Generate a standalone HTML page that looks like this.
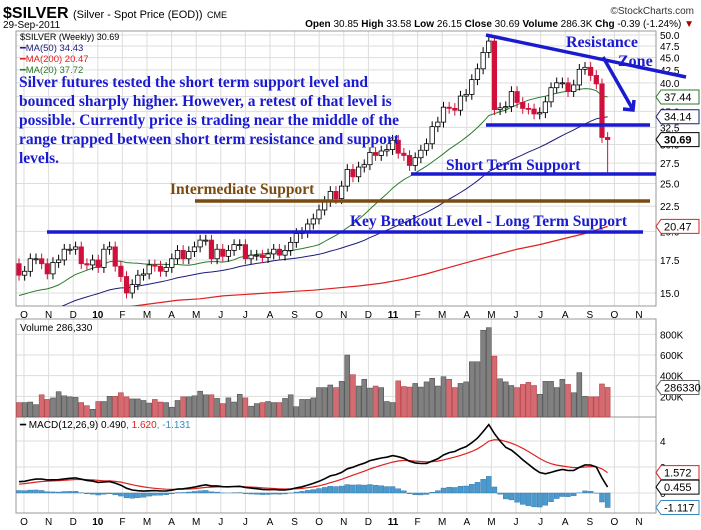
<!DOCTYPE html>
<html><head><meta charset="utf-8">
<style>
body{margin:0;background:#fff;width:701px;height:530px;overflow:hidden;font-family:"Liberation Sans",sans-serif}
svg{display:block}
text{font-family:"Liberation Sans",sans-serif}
.ser{font-family:"Liberation Serif",serif;font-weight:bold}
</style></head><body>
<svg id="chart" width="701" height="530" xmlns="http://www.w3.org/2000/svg">
<g id="grid"></g>
<g id="marks"></g>
<g id="anno">
 <text x="3" y="18" font-size="16" font-weight="bold">$SILVER <tspan font-size="11" font-weight="normal">(Silver - Spot Price (EOD))</tspan> <tspan font-size="9" font-weight="normal">CME</tspan></text>
 <text x="3" y="28" font-size="10">29-Sep-2011</text>
 <text x="694" y="27" font-size="10" text-anchor="end"><tspan font-weight="bold">Open</tspan> 30.85 <tspan font-weight="bold">High</tspan> 33.58 <tspan font-weight="bold">Low</tspan> 26.15 <tspan font-weight="bold">Close</tspan> 30.69 <tspan font-weight="bold">Volume</tspan> 286.3K <tspan font-weight="bold">Chg</tspan> -0.39 (-1.24%) <tspan fill="#a00">▼</tspan></text>
 <text x="694" y="14" font-size="10" text-anchor="end" fill="#333">©StockCharts.com</text>
 <g font-size="9.5">
  <text x="20" y="40" font-family="DejaVu Sans Mono" font-size="9">$SILVER (Weekly) 30.69</text>
  <text x="20" y="51" fill="#1c1c7a">━MA(50) 34.43</text>
  <text x="20" y="62" fill="#d22">━MA(200) 20.47</text>
  <text x="20" y="73" fill="#2a7a2a">━MA(20) 37.72</text>
 </g>
 <g class="ser" fill="#1a1ad0" font-size="15.5">
  <text x="19" y="87" class="ser">Silver futures tested the short term support level and</text>
  <text x="19" y="106" class="ser">bounced sharply higher. However, a retest of that level is</text>
  <text x="19" y="125" class="ser">possible. Currently price is trading near the middle of the</text>
  <text x="19" y="144" class="ser">range trapped between short term resistance and support</text>
  <text x="19" y="163" class="ser">levels.</text>
 </g>
 <line x1="486" y1="35" x2="686" y2="77" stroke="#1a1ad0" stroke-width="3.5"/>
 <line x1="603" y1="57" x2="632" y2="108" stroke="#1a1ad0" stroke-width="3.5"/>
 <polyline points="623,109 633,110 634,100" fill="none" stroke="#1a1ad0" stroke-width="3.5"/>
 <line x1="486" y1="125" x2="650" y2="125" stroke="#1a1ad0" stroke-width="3.5"/>
 <line x1="411" y1="174" x2="656" y2="174" stroke="#1a1ad0" stroke-width="3.5"/>
 <line x1="195" y1="201" x2="650" y2="201" stroke="#7a4a10" stroke-width="3.5"/>
 <line x1="47" y1="232" x2="643" y2="232" stroke="#1a1ad0" stroke-width="3.5"/>
 <text x="566" y="47" class="ser" font-size="16" fill="#1a1ad0">Resistance</text>
 <text x="618" y="66" class="ser" font-size="16" fill="#1a1ad0">Zone</text>
 <text x="446" y="170" class="ser" font-size="15.5" fill="#1a1ad0">Short Term Support</text>
 <text x="170" y="194" class="ser" font-size="15.5" fill="#7a4a10">Intermediate Support</text>
 <text x="350" y="226" class="ser" font-size="15.5" fill="#1a1ad0">Key Breakout Level - Long Term Support</text>
 <text x="20" y="331" font-size="10">Volume 286,330</text>
 <text x="20" y="428" font-size="10">━ MACD(12,26,9) 0.490<tspan fill="#d22">, 1.620</tspan><tspan fill="#3a8ac0">, -1.131</tspan></text>
</g>
<g id="tags"></g>
</svg>
<script>
const warmupCloses=[10.5,9.8,9.0,9.5,9.5,9.8,9.3,10.2,9.8,10.4,10.6,11.0,11.3,11.5,11.3,11.8,12.3,12.8,13.3,14.4,13.2,12.8,12.9,13.3,13.2,12.5,12.4,12.3,12.8,13.3,14.0,14.5,15.2,15.6,15.6,15.2,14.7,14.3,13.5,12.9,13.4,13.9,13.9,14.2,14.6,14.3,14.8,16.0,16.4,17.2];
const closes=[16.3,16.6,17.6,17.6,17.2,16.4,17.3,17.5,18.4,18.4,18.6,17.2,17.1,17.5,
16.9,18.4,18.6,17.0,16.2,15.0,15.6,16.3,16.4,17.1,17.0,16.6,16.9,17.6,18.3,17.6,18.2,18.6,19.2,19.2,17.6,18.4,17.8,18.3,18.8,18.8,17.6,17.9,17.9,17.7,18.0,18.4,17.9,18.3,19.0,19.8,19.9,20.7,21.2,22.1,23.0,24.1,23.3,24.7,26.7,25.8,27.0,27.3,28.9,28.5,29.1,29.3,30.6,
28.8,28.5,27.2,28.2,29.2,30.1,32.6,33.3,35.7,35.5,35.2,37.6,37.9,40.6,42.7,46.1,48.6,35.3,35.6,35.8,38.4,36.5,35.5,35.4,34.6,34.8,36.6,39.1,40.0,40.0,38.4,39.6,42.6,43.0,41.4,39.8,31.0,30.69];
const volumesK=[140,140,145,120,215,170,185,245,205,195,190,140,110,75,150,150,200,200,235,195,175,175,160,135,170,145,140,95,160,195,195,205,250,215,215,180,130,185,145,220,185,105,130,140,150,140,140,180,215,100,170,170,185,285,285,310,285,345,600,410,300,365,280,300,285,150,140,350,295,290,325,290,340,375,300,390,365,285,325,340,535,535,840,865,590,370,340,305,285,315,335,305,220,345,345,285,365,315,235,430,200,195,195,320,286];
const ma200Weeks=[0,4,8,12,16,20,24,28,32,36,40,44,48,52,56,60,64,68,72,76,80,84,88,92,96,100,104];
const ma200Values=[13.0,13.3,13.5,13.7,13.9,14.1,14.3,14.5,14.6,14.8,14.9,15.0,15.1,15.2,15.35,15.5,15.7,16.0,16.4,16.9,17.4,17.9,18.4,18.8,19.3,19.8,20.47];
const priceTicks=[15,17.5,20,22.5,25,27.5,30,32.5,35,37.5,40,42.5,45,47.5,50];
const volTicks=[200,400,600,800];
const macdTicks=[0,2,4];
const monthLabels=["O","N","D","10","F","M","A","M","J","J","A","S","O","N","D","11","F","M","A","M","J","J","A","S","O","N"];

const NS="http://www.w3.org/2000/svg";
const L=16,R=656,PT=31,PB=306,VT=319,VB=417,MT=417,MB=513;
const xOf=i=>19+i*5.66;
const xMonth=m=>24+m*24.6;
const yP=v=>35+(Math.log(50)-Math.log(v))*214.3;
const yV=k=>417-k*0.1033;
const yM=v=>493-v*13;
function mk(tag,attrs,parent){const e=document.createElementNS(NS,tag);for(const k in attrs)e.setAttribute(k,attrs[k]);parent.appendChild(e);return e;}
const grid=document.getElementById('grid'),marks=document.getElementById('marks'),tags=document.getElementById('tags');

[[PT,PB],[VT,VB],[MT,MB]].forEach(([t,b],pi)=>{
  monthLabels.forEach((lab,m)=>{const x=xMonth(m);if(x<R){const l=mk('line',{x1:x,x2:x,y1:t,y2:b,stroke:'#ddd'},grid);
  
  }});
});
priceTicks.forEach(v=>{const y=yP(v);const l=mk('line',{x1:L,x2:R,y1:y,y2:y,stroke:'#ddd'},grid);


const t=mk('text',{x:660,y:y+4,'font-size':10},grid);t.textContent=v.toFixed(1);

});
volTicks.forEach(k=>{const y=yV(k);const l=mk('line',{x1:L,x2:R,y1:y,y2:y,stroke:'#ddd'},grid);


const t=mk('text',{x:660,y:y+4,'font-size':10},grid);t.textContent=k+'K';

});
macdTicks.forEach(v=>{const y=yM(v);const l=mk('line',{x1:L,x2:R,y1:y,y2:y,stroke:'#ddd'},grid);


const t=mk('text',{x:660,y:y+4,'font-size':10},grid);t.textContent=v;

});
[[PT,PB],[VT,VB],[MT,MB]].forEach(([t,b])=>{const r=mk('rect',{x:L,y:t,width:R-L,height:b-t,fill:'none',stroke:'#999'},grid);

});
[314,521].forEach(yy=>monthLabels.forEach((lab,m)=>{const t=mk('text',{x:xMonth(m),y:yy+4,'font-size':10,'text-anchor':'middle','font-weight':(lab.length>1?'bold':'normal')},grid);t.textContent=lab;

}));

const all=warmupCloses.concat(closes),off=warmupCloses.length;
function sma(n){return closes.map((c,i)=>{const j=i+off;const s=all.slice(Math.max(0,j-n+1),j+1);return s.reduce((a,b)=>a+b,0)/s.length;});}
function pathFrom(vals,xf,yf){return vals.map((v,i)=>(i?'L':'M')+xf(i).toFixed(1)+','+yf(v).toFixed(1)).join('');}
const clip=mk('clipPath',{id:'pc'},marks);mk('rect',{x:L,y:PT,width:R-L,height:PB-PT},clip);
const ma20=sma(20),ma50=sma(50);
let p=mk('path',{d:pathFrom(ma20,xOf,yP),fill:'none',stroke:'#2a7a2a','stroke-width':1,'clip-path':'url(#pc)'},marks);


p=mk('path',{d:pathFrom(ma50,xOf,yP),fill:'none',stroke:'#1c1c7a','stroke-width':1,'clip-path':'url(#pc)'},marks);


p=mk('path',{d:ma200Values.map((v,i)=>(i?'L':'M')+xOf(ma200Weeks[i])+','+yP(v)).join(''),fill:'none',stroke:'#e02020','stroke-width':1.2,'clip-path':'url(#pc)'},marks);



closes.forEach((c,i)=>{
  const o=i?closes[i-1]:warmupCloses[off-1];
  const up=c>=o,x=xOf(i);
  const hi=Math.max(o,c)*1.025,lo=(i===closes.length-1)?26.15:Math.min(o,c)*0.975;
  const col=up?'#000':'#d0103a';
  const w=mk('line',{x1:x,x2:x,y1:yP(hi),y2:yP(lo),stroke:col},marks);
  
  
  const yt=yP(Math.max(o,c)),yb=yP(Math.min(o,c));
  const b=mk('rect',{x:x-2.2,y:yt,width:4.4,height:Math.max(1,yb-yt),fill:up?'#fff':'#d0103a',stroke:col,'stroke-width':0.8},marks);
  
  
  const v=volumesK[i];if(v!==undefined){
  const vb=mk('rect',{x:x-2.5,y:yV(v),width:5,height:417-yV(v),fill:up?'#808080':'#d66a72',stroke:up?'#444':'#a33','stroke-width':0.5},marks);
  
  }
});

function ema(arr,n){const k=2/(n+1);const out=[];arr.forEach((v,i)=>out.push(i?v*k+out[i-1]*(1-k):v));return out;}
const e12=ema(all,12),e26=ema(all,26);
const macdAll=all.map((v,i)=>e12[i]-e26[i]);const sigAll=ema(macdAll,9);
const macd=macdAll.slice(off),sig=sigAll.slice(off);
macd.forEach((m,i)=>{const h=m-sig[i];const y0=yM(0),y1=yM(h);
 const r=mk('rect',{x:xOf(i)-2.5,y:Math.min(y0,y1),width:5,height:Math.abs(y1-y0),fill:'#4a9ad0',stroke:'#2a70a0','stroke-width':0.4},marks);
 
 });
p=mk('path',{d:pathFrom(sig,xOf,yM),fill:'none',stroke:'#e02020','stroke-width':1.2},marks);


p=mk('path',{d:pathFrom(macd,xOf,yM),fill:'none',stroke:'#000','stroke-width':1.6},marks);



function tag(y,txt,col,bold){const g=mk('g',{},tags);
 mk('path',{d:`M656,${y} L661,${y-7} L699,${y-7} L699,${y+7} L661,${y+7} Z`,fill:'#fff',stroke:col},g);
 const t=mk('text',{x:664,y:y+4,'font-size':11,fill:'#000','font-weight':bold?'bold':'normal'},g);t.textContent=txt;
 
 }
const last=closes.length-1;
tag(yP(ma20[last]),ma20[last].toFixed(2),'#2a7a2a');
tag(yP(ma50[last]),ma50[last].toFixed(2),'#1c1c7a');
tag(yP(closes[last]),closes[last].toFixed(2),'#000',true);
tag(yP(ma200Values[ma200Values.length-1]),ma200Values[ma200Values.length-1].toFixed(2),'#d22');
tag(yV(volumesK[last]),'286330.0','#666');
tag(yM(sig[last]),sig[last].toFixed(3),'#d22');
tag(yM(macd[last]),macd[last].toFixed(3),'#000');
tag(yM(macd[last]-sig[last]),(macd[last]-sig[last]).toFixed(3),'#3a8ac0');
</script>
</body></html>
